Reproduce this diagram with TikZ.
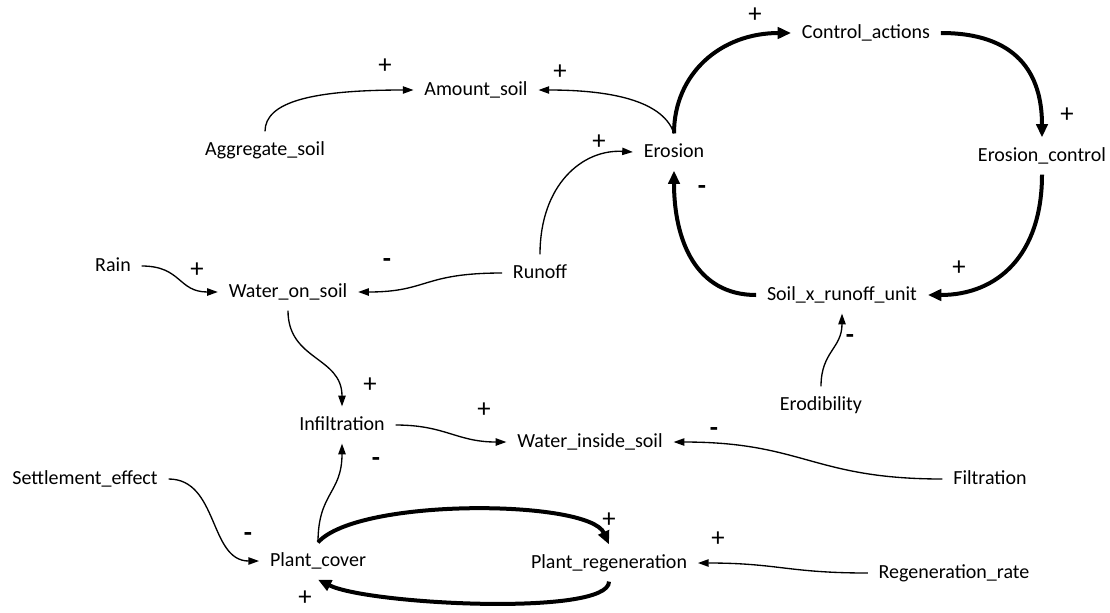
\documentclass[tikz,border=0pt]{standalone}
\usepackage{fontspec}
\setmainfont{Carlito}
\usepackage{tikz}
\usetikzlibrary{arrows.meta}

\tikzset{
  var/.style={inner xsep=8pt, inner ysep=7pt, text height=10.5pt, text depth=3pt, font=\fontsize{15}{18}\selectfont},
  sgn/.style={inner sep=0pt, font=\fontsize{20}{24}\selectfont},
  thinarr/.style={line width=1pt, -{Triangle[length=8pt,width=5.5pt]}},
  thickarr/.style={line width=3pt, -{Triangle[length=10pt,width=8.5pt]}}
}

\begin{document}
\begin{tikzpicture}[x=0.75pt,y=0.75pt,yscale=-1,xscale=1]
        \useasboundingbox (0,0) rectangle (1110,612);

        % Text Nodes
        \node[var] (amt) at (476,90) {Amount\_soil};
        \node[var] (agg) at (265,150) {Aggregate\_soil};
        \node[var] (ero) at (674,152) {Erosion};
        \node[var] (ca) at (866,33) {Control\_actions};
        \node[var] (ec) at (1042,156) {Erosion\_control};
        \node[var] (sxr) at (842,295) {Soil\_x\_runoff\_unit};
        \node[var] (rain) at (113,266) {Rain};
        \node[var] (wos) at (288,292) {Water\_on\_soil};
        \node[var] (run) at (540,273) {Runoff};
        \node[var] (erd) at (821,405) {Erodibility};
        \node[var] (inf) at (342,425) {Infiltration};
        \node[var] (wis) at (590,442) {Water\_inside\_soil};
        \node[var] (fil) at (990,479) {Filtration};
        \node[var] (sett) at (85,479) {Settlement\_effect};
        \node[var] (pc) at (318,561) {Plant\_cover};
        \node[var] (preg) at (609,563) {Plant\_regeneration};
        \node[var] (rr) at (954,573) {Regeneration\_rate};

        % Thin links
        \draw[thinarr] (agg.north) .. controls +(0,-30) and +(-100,0) .. (amt.west);
        \draw[thinarr] (ero.north) .. controls +(-10,-30) and +(80,0) .. (amt.east);
        \draw[thinarr] (run.north) .. controls +(0,-70) and +(-50,-3) .. (ero.west);
        \draw[thinarr] (run.west) .. controls +(-80,0) and +(70,0) .. (wos.east);
        \draw[thinarr] (rain.east) .. controls +(40,0) and +(-40,0) .. (wos.west);
        \draw[thinarr] (wos.south) .. controls +(0,50) and +(0,-50) .. (inf.north);
        \draw[thinarr] (inf.east) .. controls +(50,0) and +(-50,0) .. (wis.west);
        \draw[thinarr] (fil.west) .. controls +(-130,0) and +(130,0) .. (wis.east);
        \draw[thinarr] (erd.north) .. controls +(0,-35) and +(0,35) .. (sxr.south);
        \draw[thinarr] (sett.east) .. controls +(50,0) and +(-50,0) .. (pc.west);
        \draw[thinarr] (pc.north) .. controls +(0,-50) and +(0,50) .. (inf.south);
        \draw[thinarr] (rr.west) .. controls +(-80,0) and +(80,0) .. (preg.east);

        % Thick loops
        \draw[thickarr] (pc.north) .. controls +(40,-45) and +(-20,-45) .. (preg.north);
        \draw[thickarr] (preg.south) .. controls +(0,35) and +(50,25) .. (pc.south);
        \draw[thickarr] (ero.north) .. controls +(0,-60) and +(-70,0) .. (ca.west);
        \draw[thickarr] (ca.east) .. controls +(75,0) and +(0,-65) .. (ec.north);
        \draw[thickarr] (ec.south) .. controls +(0,80) and +(70,0) .. (sxr.east);
        \draw[thickarr] (sxr.west) .. controls +(-60,0) and +(0,70) .. (ero.south);

        % Signs
        \node[sgn] (s1) at (385,66) {+};
        \node[sgn] (s2) at (560,72) {+};
        \node[sgn] (s3) at (599,142) {+};
        \node[sgn] (s4) at (755,15) {+};
        \node[sgn] (s5) at (1067,115) {+};
        \node[sgn] (s6) at (959,268) {+};
        \node[sgn] (s7) at (702,190) {\textbf{-}};
        \node[sgn] (s8) at (387,263) {\textbf{-}};
        \node[sgn] (s9) at (197,270) {+};
        \node[sgn] (s10) at (370,385) {+};
        \node[sgn] (s11) at (484,410) {+};
        \node[sgn] (s12) at (376,462) {\textbf{-}};
        \node[sgn] (s13) at (714,432) {\textbf{-}};
        \node[sgn] (s14) at (850,339) {\textbf{-}};
        \node[sgn] (s15) at (248,537) {\textbf{-}};
        \node[sgn] (s16) at (609,520) {+};
        \node[sgn] (s17) at (305,598) {+};
        \node[sgn] (s18) at (718,539) {+};

\end{tikzpicture}
\end{document}
